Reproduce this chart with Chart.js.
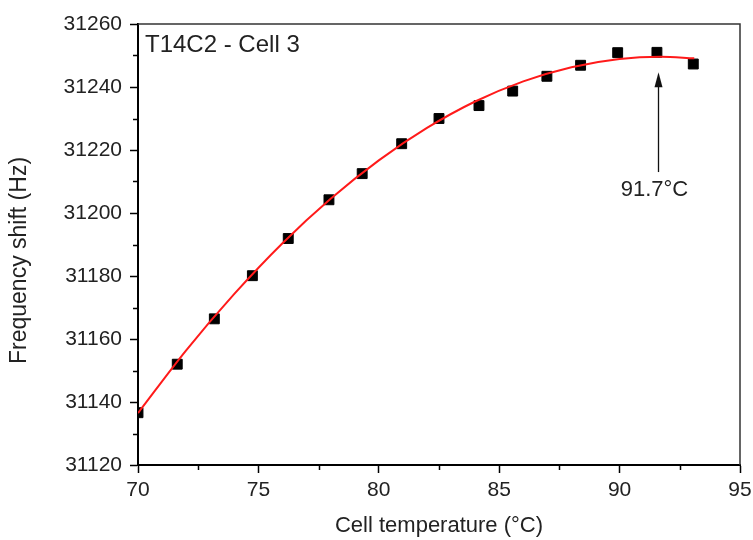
<!DOCTYPE html>
<html>
<head>
<meta charset="utf-8">
<script src="https://cdn.jsdelivr.net/npm/chart.js@4/dist/chart.umd.min.js"></script>
<style>
    body { margin: 0; background: #fff; }
    #wrap { width: 753px; height: 540px; }
</style>
</head>
<body>
<div id="wrap"><canvas id="c" width="753" height="540"></canvas></div>
<script>
// measured points (cell temperature in °C, frequency shift in Hz)
var tempC = [ 70.0, 71.63, 73.17, 74.75, 76.24, 77.93, 79.31, 80.95, 82.5, 84.16, 85.56, 86.98, 88.38, 89.92, 91.55, 93.06 ];
var freqHz = [ 31136.6, 31152.0, 31166.4, 31180.1, 31191.9, 31204.2, 31212.5, 31222.0, 31230.0, 31234.1, 31238.7, 31243.4, 31246.9, 31250.9, 31251.0, 31247.3 ];

// fitted curve
var fitTemp = [ 70, 72, 74, 76, 78, 80, 82, 84, 86, 88, 90, 91.7, 93.1 ];
var fitFreq = [ 31136.5, 31156.4, 31174.3, 31190.4, 31204.5, 31216.7, 31227.0, 31235.4, 31241.8, 31246.3, 31248.9, 31249.6, 31249.1 ];

// axes
var xMin = 70, xMax = 95, xStep = 5;
var yMin = 31120, yMax = 31260, yStep = 20;

// labels
var panelTitle = 'T14C2 - Cell 3';
var xTitle = 'Cell temperature (°C)';
var yTitle = 'Frequency shift (Hz)     '; // trailing blanks nudge it down a bit

// arrow marking the maximum
var peakTemp = 91.7;
var peakLabel = '91.7°C';
var arrowTipHz = 31244.7;
var arrowTailHz = 31213;

var toPoints = function ( xs, ys ) {
    var out = [];
    for ( var i = 0; i < xs.length; i++ ) {
        out.push( { x: xs[ i ], y: ys[ i ] } );
    }
    return out;
};

var plainNumber = function ( value ) {
    return String( value );
};

var textFont = '"Liberation Sans", Arial, Helvetica, sans-serif';
Chart.defaults.font.family = textFont;
Chart.defaults.color = '#222';

var decorPlugin = {
    id: 'decor',
    afterDatasetsDraw: function ( chart ) {
        var ctx = chart.ctx;
        var area = chart.chartArea;
        var xs = chart.scales.x;
        var ys = chart.scales.y;
        var v, p;

        ctx.save();

        // top and right frame
        ctx.strokeStyle = '#333';
        ctx.lineWidth = 1.5;
        ctx.beginPath();
        ctx.moveTo( area.left, area.top );
        ctx.lineTo( area.right, area.top );
        ctx.lineTo( area.right, area.bottom );
        ctx.stroke();

        // minor ticks
        ctx.strokeStyle = '#000';
        ctx.lineWidth = 1.5;
        ctx.beginPath();
        for ( v = xMin + xStep / 2; v < xMax; v += xStep ) {
            p = Math.round( xs.getPixelForValue( v ) ) + 0.5;
            ctx.moveTo( p, area.bottom );
            ctx.lineTo( p, area.bottom + 5 );
        }
        for ( v = yMin + yStep / 2; v < yMax; v += yStep ) {
            p = Math.round( ys.getPixelForValue( v ) ) + 0.5;
            ctx.moveTo( area.left, p );
            ctx.lineTo( area.left - 5, p );
        }
        ctx.stroke();

        // panel title
        ctx.fillStyle = '#222';
        ctx.font = '24px ' + textFont;
        ctx.textAlign = 'left';
        ctx.textBaseline = 'alphabetic';
        ctx.fillText( panelTitle, area.left + 7, area.top + 28 );

        // arrow + label
        var ax = Math.round( xs.getPixelForValue( peakTemp ) ) - 2.5;
        var tipY = ys.getPixelForValue( arrowTipHz );
        var tailY = ys.getPixelForValue( arrowTailHz );
        ctx.strokeStyle = '#111';
        ctx.lineWidth = 1.3;
        ctx.beginPath();
        ctx.moveTo( ax, tailY );
        ctx.lineTo( ax, tipY + 8 );
        ctx.stroke();
        ctx.fillStyle = '#111';
        ctx.beginPath();
        ctx.moveTo( ax, tipY );
        ctx.lineTo( ax - 4, tipY + 15 );
        ctx.lineTo( ax + 4, tipY + 15 );
        ctx.closePath();
        ctx.fill();

        ctx.fillStyle = '#222';
        ctx.font = '22px ' + textFont;
        ctx.textAlign = 'center';
        ctx.fillText( peakLabel, ax - 4, tailY + 24 );

        ctx.restore();
    }
};

var chart = new Chart( document.getElementById( 'c' ), {
    type: 'scatter',
    data: {
        datasets: [
            {
                label: 'fit',
                data: toPoints( fitTemp, fitFreq ),
                showLine: true,
                borderColor: '#ff1a1a',
                borderWidth: 2,
                pointRadius: 0,
                cubicInterpolationMode: 'monotone',
                order: 0
            },
            {
                label: 'data',
                data: toPoints( tempC, freqHz ),
                pointStyle: 'rect',
                pointRadius: 7,
                backgroundColor: '#000',
                borderColor: '#000',
                borderWidth: 1,
                order: 1
            }
        ]
    },
    options: {
        responsive: false,
        animation: false,
        layout: { padding: { left: 0, right: 13, top: 24, bottom: 0 } },
        plugins: {
            legend: { display: false },
            tooltip: { enabled: false }
        },
        scales: {
            x: {
                type: 'linear',
                min: xMin,
                max: xMax,
                ticks: { stepSize: xStep, font: { size: 21 }, color: '#222', padding: 5, maxRotation: 0, callback: plainNumber },
                grid: { drawOnChartArea: false, tickLength: 8, tickColor: '#000', tickWidth: 1.5 },
                border: { color: '#000', width: 2 },
                title: { display: true, text: xTitle, font: { size: 22 }, color: '#222', padding: { top: 0, bottom: 1 } },
                afterFit: function ( scale ) {
                    scale.height = 75;
                    scale.paddingLeft = 0;
                    scale.paddingRight = 0;
                }
            },
            y: {
                type: 'linear',
                min: yMin,
                max: yMax,
                ticks: { stepSize: yStep, font: { size: 21 }, color: '#222', padding: 8, callback: plainNumber },
                grid: { drawOnChartArea: false, tickLength: 8, tickColor: '#000', tickWidth: 1.5 },
                border: { color: '#000', width: 2 },
                title: { display: true, text: yTitle, font: { size: 23 }, color: '#222', padding: { top: 6, bottom: 0 } },
                afterFit: function ( scale ) {
                    scale.width = 138;
                    scale.paddingTop = 0;
                    scale.paddingBottom = 0;
                }
            }
        }
    },
    plugins: [ decorPlugin ]
} );
</script>
</body>
</html>
